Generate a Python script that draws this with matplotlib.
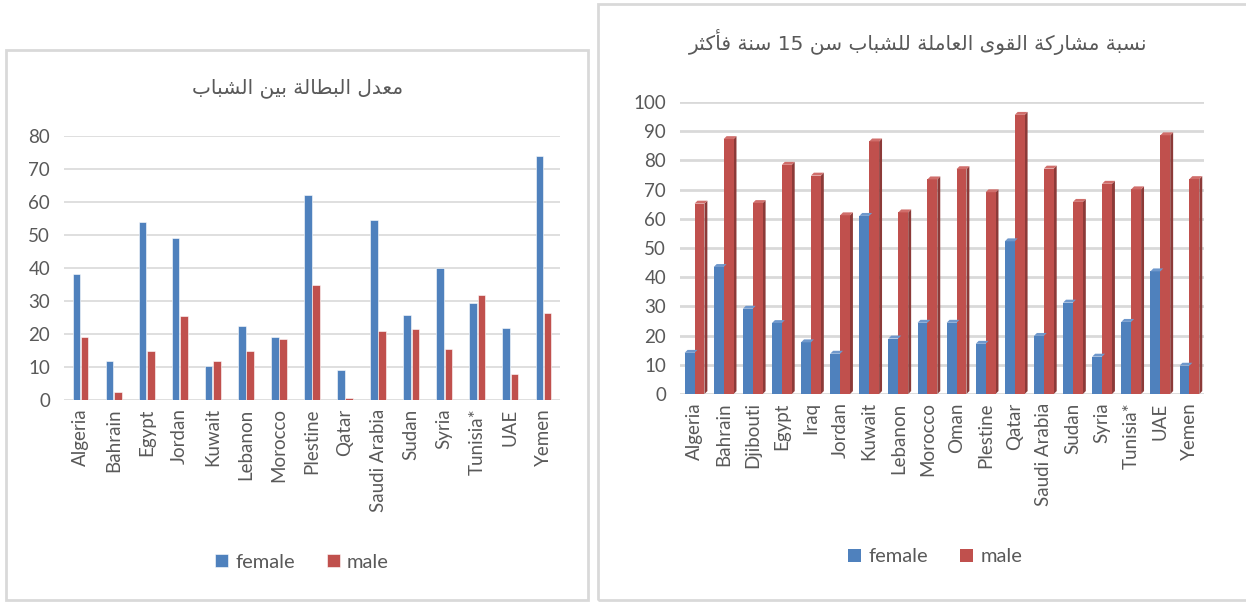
import re
import numpy as np
import matplotlib
matplotlib.use("Agg")
import matplotlib.pyplot as plt
from matplotlib.patches import Rectangle, Polygon

# ---------------- data ----------------
unemp_countries = ["Algeria", "Bahrain", "Egypt", "Jordan", "Kuwait", "Lebanon", "Morocco",
                   "Plestine", "Qatar", "Saudi Arabia", "Sudan", "Syria", "Tunisia*", "UAE", "Yemen"]
unemp_female = [38.2, 11.9, 54.0, 49.1, 10.3, 22.3, 19.2, 62.1, 9.2, 54.4, 25.9, 40.1, 29.3, 21.9, 73.8]
unemp_male = [19.2, 2.5, 15.0, 25.4, 11.9, 15.0, 18.4, 34.7, 0.7, 20.8, 21.6, 15.4, 31.7, 8.0, 26.3]
unemp_yticks = [0, 10, 20, 30, 40, 50, 60, 70, 80]
unemp_title = "معدل البطالة بين الشباب"

lfp_countries = ["Algeria", "Bahrain", "Djibouti", "Egypt", "Iraq", "Jordan", "Kuwait", "Lebanon",
                 "Morocco", "Oman", "Plestine", "Qatar", "Saudi Arabia", "Sudan", "Syria",
                 "Tunisia*", "UAE", "Yemen"]
lfp_female = [14.1, 43.5, 29.2, 24.3, 17.7, 13.8, 61.0, 19.0, 24.4, 24.4, 17.2, 52.3, 19.9, 31.3, 12.8, 24.7, 42.0, 9.7]
lfp_male = [65.2, 87.3, 65.4, 78.5, 74.8, 61.2, 86.5, 62.2, 73.5, 77.0, 69.1, 95.6, 77.2, 65.8, 72.0, 70.1, 88.6, 73.6]
lfp_yticks = [0, 10, 20, 30, 40, 50, 60, 70, 80, 90, 100]
lfp_title = "نسبة مشاركة القوى العاملة للشباب سن 15 سنة فأكثر"

series_names = ["female", "male"]

# ---------------- minimal Arabic shaping ----------------
_FORMS = {
    'ا': (0xFE8D, 2), 'أ': (0xFE83, 2), 'ب': (0xFE8F, 4), 'ة': (0xFE93, 2),
    'ت': (0xFE95, 4), 'ث': (0xFE99, 4), 'د': (0xFEA9, 2), 'ر': (0xFEAD, 2),
    'س': (0xFEB1, 4), 'ش': (0xFEB5, 4), 'ط': (0xFEC1, 4), 'ع': (0xFEC9, 4),
    'ف': (0xFED1, 4), 'ق': (0xFED5, 4), 'ك': (0xFED9, 4), 'ل': (0xFEDD, 4),
    'م': (0xFEE1, 4), 'ن': (0xFEE5, 4), 'و': (0xFEED, 2), 'ى': (0xFEEF, 2),
    'ي': (0xFEF1, 4),
}


def shape_arabic(text):
    out = []
    n = len(text)
    for i, ch in enumerate(text):
        if ch not in _FORMS:
            out.append(ch)
            continue
        base, nf = _FORMS[ch]
        prev = text[i - 1] if i > 0 else None
        nxt = text[i + 1] if i < n - 1 else None
        jp = prev in _FORMS and _FORMS[prev][1] == 4
        jn = nf == 4 and nxt in _FORMS
        if jp and jn:
            code = base + 3
        elif jp:
            code = base + 1
        elif jn:
            code = base + 2
        else:
            code = base
        out.append(chr(code))
    vis = "".join(out)[::-1]
    vis = re.sub(r'[0-9]+', lambda m: m.group(0)[::-1], vis)
    return vis


# ---------------- styling ----------------
BLUE = "#4F81BD"
RED = "#C0504D"
BLUE_D = "#38618F"
RED_D = "#8C3A38"
BLUE_T = "#6F98CC"
RED_T = "#D06E6B"
GRID = "#D9D9D9"
TXT = "#595959"
FONT = ["Lato", "DejaVu Sans"]
TICK_FS = 13.5
LEG_FS = 14.5
TITLE_FS = 14.5

W, H = 1246, 602
fig = plt.figure(figsize=(W / 100, H / 100), dpi=100)
fig.patch.set_facecolor("white")


def px_axes(left, top, right, bottom):
    return fig.add_axes([left / W, 1 - bottom / H, (right - left) / W, (bottom - top) / H])


# panel borders
for (x0, y0, x1, y1) in [(6, 50, 588, 600), (598, 4, 1252, 600)]:
    fig.patches.append(Rectangle((x0 / W, 1 - y1 / H), (x1 - x0) / W, (y1 - y0) / H,
                                 transform=fig.transFigure, fill=False,
                                 edgecolor=GRID, linewidth=2, zorder=0))


def style_axes(ax, labels, yticks):
    ax.set_facecolor("none")
    for s in ax.spines.values():
        s.set_visible(False)
    ax.set_yticks(yticks)
    ax.set_yticklabels([str(v) for v in yticks], fontsize=TICK_FS, color=TXT, family=FONT)
    ax.set_xticks(np.arange(len(labels)))
    ax.set_xticklabels(labels, rotation=90, fontsize=TICK_FS, color=TXT, family=FONT)
    ax.tick_params(length=0)
    ax.tick_params(axis="y", pad=10)
    ax.tick_params(axis="x", pad=6)
    ax.yaxis.grid(True, color=GRID, linewidth=1.2)
    ax.set_axisbelow(True)


# ---------------- left chart ----------------
ax1 = px_axes(64, 136, 560, 400)
x1 = np.arange(len(unemp_countries))
bw1 = 0.23
ax1.bar(x1 - bw1 / 2 - 0.01, unemp_female, width=bw1, color=BLUE, edgecolor="white", linewidth=0.4, label=series_names[0])
ax1.bar(x1 + bw1 / 2 + 0.01, unemp_male, width=bw1, color=RED, edgecolor="white", linewidth=0.4, label=series_names[1])
ax1.set_xlim(-0.5, len(unemp_countries) - 0.5)
ax1.set_ylim(0, 80)
style_axes(ax1, unemp_countries, unemp_yticks)
fig.text(298 / W, 1 - 88 / H, shape_arabic(unemp_title), ha="center", va="center",
         fontsize=TITLE_FS, color=TXT, family="DejaVu Sans")
leg1 = ax1.legend(loc="center", bbox_to_anchor=(302 / W, 1 - 562 / H), bbox_transform=fig.transFigure,
                  ncol=2, frameon=False, handlelength=0.65, handleheight=0.65,
                  handletextpad=0.35, columnspacing=1.6, prop={"family": FONT, "size": LEG_FS})
for t in leg1.get_texts():
    t.set_color(TXT)

# ---------------- right chart (pseudo 3D) ----------------
ax2 = px_axes(680, 102, 1204, 394)
x2 = np.arange(len(lfp_countries))
bw2 = 0.34
dx, dy = 0.1, 1.0
bars_f = ax2.bar(x2 - bw2 / 2, lfp_female, width=bw2, color=BLUE, linewidth=0, label=series_names[0], zorder=3)
bars_m = ax2.bar(x2 + bw2 / 2, lfp_male, width=bw2, color=RED, linewidth=0, label=series_names[1], zorder=3)
for bars, side, top in [(bars_f, BLUE_D, BLUE_T), (bars_m, RED_D, RED_T)]:
    for r in bars:
        xl, yb = r.get_x(), r.get_y()
        w, h = r.get_width(), r.get_height()
        xr = xl + w
        ax2.add_patch(Polygon([(xr, yb), (xr + dx, yb + dy), (xr + dx, h + dy), (xr, h)],
                              closed=True, facecolor=side, edgecolor="none", zorder=2.9))
        ax2.add_patch(Polygon([(xl, h), (xl + dx, h + dy), (xr + dx, h + dy), (xr, h)],
                              closed=True, facecolor=top, edgecolor="none", zorder=3.1))
ax2.set_xlim(-0.5, len(lfp_countries) - 0.5)
ax2.set_ylim(0, 100)
style_axes(ax2, lfp_countries, lfp_yticks)
ax2.yaxis.grid(True, color=GRID, linewidth=2)
fig.text(918 / W, 1 - 42 / H, shape_arabic(lfp_title), ha="center", va="center",
         fontsize=TITLE_FS, color=TXT, family="DejaVu Sans")
leg2 = ax2.legend(loc="center", bbox_to_anchor=(935 / W, 1 - 557 / H), bbox_transform=fig.transFigure,
                  ncol=2, frameon=False, handlelength=0.65, handleheight=0.65,
                  handletextpad=0.35, columnspacing=1.6, prop={"family": FONT, "size": LEG_FS})
for t in leg2.get_texts():
    t.set_color(TXT)

fig.savefig("out.png", dpi=100, facecolor="white")
